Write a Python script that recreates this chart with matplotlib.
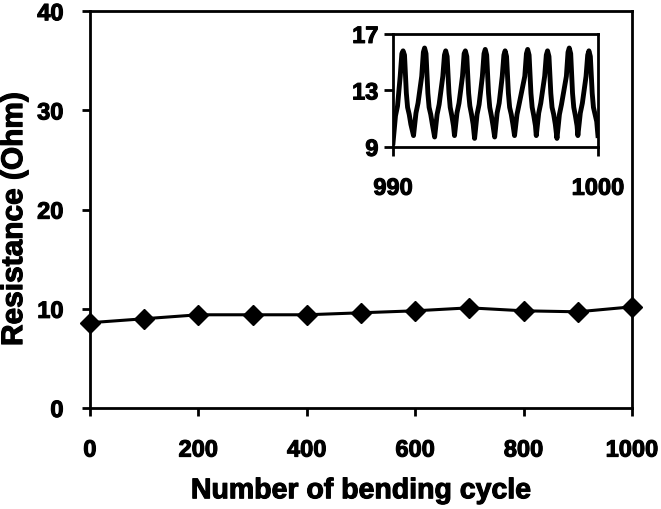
import numpy as np
import matplotlib
matplotlib.use('Agg')
import matplotlib.pyplot as plt
import matplotlib.patheffects as pe

plt.rcParams['font.family'] = ['Liberation Sans', 'DejaVu Sans']
plt.rcParams['font.weight'] = 'bold'

# main data: resistance vs number of bending cycles
cycles = [0, 100, 200, 300, 400, 500, 600, 700, 800, 900, 1000]
resistance = [8.6, 9.0, 9.4, 9.4, 9.4, 9.6, 9.8, 10.1, 9.8, 9.7, 10.2]

# inset data: resistance during cycles 990-1000
inset_x = [990.00, 990.12, 990.22, 990.35, 990.43, 990.49, 990.56, 990.65, 990.71, 990.79, 990.87,
           991.00, 991.12, 991.22, 991.40, 991.48, 991.54, 991.61, 991.70, 991.76, 991.84, 991.92,
           992.03, 992.15, 992.25, 992.43, 992.51, 992.57, 992.64, 992.73, 992.79, 992.87, 992.95,
           993.00, 993.12, 993.22, 993.39, 993.47, 993.53, 993.60, 993.69, 993.75, 993.83, 993.91,
           993.98, 994.10, 994.20, 994.36, 994.44, 994.50, 994.57, 994.66, 994.72, 994.80, 994.88,
           994.96, 995.08, 995.18, 995.33, 995.41, 995.47, 995.54, 995.63, 995.69, 995.77, 995.85,
           995.93, 996.05, 996.15, 996.43, 996.51, 996.57, 996.64, 996.73, 996.79, 996.87, 996.95,
           996.99, 997.11, 997.21, 997.40, 997.48, 997.54, 997.61, 997.70, 997.76, 997.84, 997.92,
           998.00, 998.12, 998.22, 998.46, 998.54, 998.60, 998.67, 998.76, 998.82, 998.90, 998.98,
           999.02, 999.14, 999.24, 999.42, 999.50, 999.56, 999.63, 999.72, 999.78, 999.86, 999.94,
           1000.00]
inset_y = [9.3, 11.2, 11.9, 14.0, 15.6, 15.8, 15.5, 12.8, 11.8, 11.3, 10.6,
           9.8, 11.4, 12.1, 14.0, 15.7, 16.0, 15.6, 12.8, 11.8, 11.3, 10.6,
           9.7, 11.3, 12.0, 14.0, 15.5, 15.8, 15.4, 12.8, 11.8, 11.2, 10.5,
           9.8, 11.4, 12.1, 14.0, 15.6, 15.8, 15.4, 12.8, 11.9, 11.3, 10.6,
           9.6, 11.3, 12.0, 14.0, 15.6, 15.9, 15.5, 12.8, 11.8, 11.2, 10.5,
           9.7, 11.4, 12.1, 14.0, 15.5, 15.8, 15.4, 12.8, 11.8, 11.3, 10.6,
           9.8, 11.3, 12.0, 14.0, 15.6, 15.9, 15.5, 12.8, 11.8, 11.2, 10.5,
           9.8, 11.4, 12.1, 14.0, 15.5, 15.8, 15.4, 12.8, 11.8, 11.3, 10.6,
           9.6, 11.3, 12.0, 14.0, 15.7, 16.0, 15.6, 12.8, 11.8, 11.2, 10.5,
           9.8, 11.4, 12.1, 14.0, 15.5, 15.8, 15.4, 12.8, 11.8, 11.3, 10.8,
           9.8]

heavy = [pe.withStroke(linewidth=0.8, foreground='black')]

fig = plt.figure(figsize=(6.61, 5.10), dpi=100)
ax = fig.add_axes([0.136, 0.198, 0.820, 0.778])
ax.plot(cycles, resistance, color='black', lw=2.2, marker='D', ms=10.5, clip_on=False, zorder=5)
ax.set_xlim(0, 1000)
ax.set_ylim(0, 40)
ax.set_xticks([0, 200, 400, 600, 800, 1000])
ax.set_yticks([0, 10, 20, 30, 40])
ax.tick_params(direction='out', length=6, width=2, labelsize=17)
ax.tick_params(axis='x', pad=16)
ax.tick_params(axis='y', pad=13)
for sp in ax.spines.values():
    sp.set_linewidth(2)
ax.set_xlabel('Number of bending cycle', fontsize=20.5, fontweight='bold', labelpad=12,
              path_effects=heavy)
ax.set_ylabel('Resistance (Ohm)', fontsize=21.5, fontweight='bold', path_effects=heavy)
ax.yaxis.set_label_coords(-0.114, 0.476)

ins = fig.add_axes([0.5946, 0.710, 0.310, 0.2216])
ins.plot(inset_x, inset_y, color='black', lw=3.5, solid_joinstyle='round')
ins.set_xlim(990, 1000)
ins.set_ylim(9, 17)
ins.set_xticks([990, 1000])
ins.set_yticks([9, 13, 17])
ins.tick_params(direction='out', length=6.5, width=2, labelsize=17)
ins.tick_params(axis='x', pad=15)
ins.tick_params(axis='y', pad=4)
for sp in ins.spines.values():
    sp.set_linewidth(2)

for lab in ax.get_xticklabels() + ax.get_yticklabels() + ins.get_xticklabels() + ins.get_yticklabels():
    lab.set_path_effects(heavy)

fig.savefig('out.png', dpi=100)
